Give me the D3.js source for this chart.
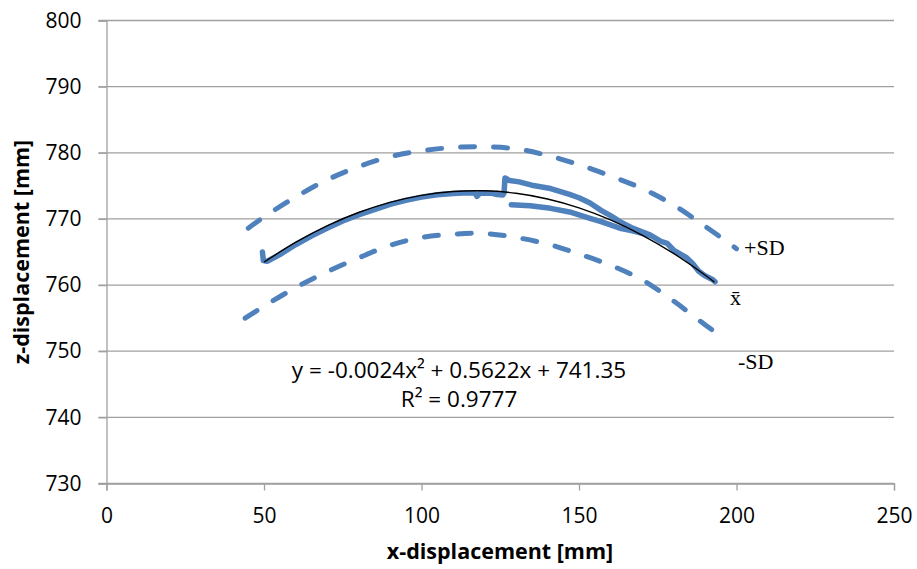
<!DOCTYPE html>
<html>
<head>
<meta charset="utf-8">
<script src="https://cdn.jsdelivr.net/npm/d3@7"></script>
<style>
  body { margin: 0; background: #fff; }
  svg { display: block; }
</style>
</head>
<body>
<svg id="chart" width="917" height="569"></svg>
<script>
// axis ticks
const xTicks = [0, 50, 100, 150, 200, 250];
const zTicks = [730, 740, 750, 760, 770, 780, 790, 800];

const meanTrace = [
  [49.5, 765.0], [49.8, 763.7], [51, 763.6], [55, 764.6], [60, 766.1], [65, 767.4],
  [70, 768.6], [75, 769.7], [80, 770.6], [85, 771.4], [90, 772.2], [95, 772.8],
  [100, 773.3], [105, 773.65], [110, 773.85], [115, 773.95], [117, 773.9], [117.6, 773.4],
  [118.5, 773.9], [122, 773.9], [124, 773.7], [125.8, 773.6], [126.2, 773.9], [126.5, 776.2],
  [128, 775.8], [131, 775.6], [135, 775.1], [141, 774.6], [147, 773.7], [150, 773.2],
  [153.5, 772.4], [157, 771.3], [160, 770.5], [163, 769.6], [167, 768.6], [172.5, 767.6],
  [176, 766.6], [178, 766.3], [180, 765.3], [184, 764.2], [186, 763.3], [188, 762.1],
  [190, 761.4], [192.5, 760.8], [193.2, 760.5]
];
// lower return branch of the mean path
const returnTrace = [
  [172.5, 767.5], [167, 768.2], [163, 768.6], [160, 769.1], [157, 769.6], [153.5, 770.1],
  [147, 771.05], [141, 771.6], [134.5, 772.0], [128.5, 772.15]
];
// polynomial trendline, sampled
const fitLine = [
  [50, 763.46], [60, 766.44], [70, 768.94], [80, 770.97], [90, 772.51], [100, 773.57],
  [110, 774.15], [120, 774.25], [130, 773.88], [140, 773.02], [150, 771.68], [160, 769.86],
  [170, 767.56], [180, 764.79], [190, 761.53], [193, 760.45]
];
const upperSD = [
  [45, 768.6], [50, 770.3], [60, 773.3], [70, 775.9], [80, 777.9], [90, 779.4],
  [100, 780.3], [110, 780.8], [120, 780.9], [130, 780.6], [140, 779.6], [150, 778.2],
  [160, 776.5], [170, 774.6], [180, 772.1], [190, 768.9], [200, 765.5]
];
const lowerSD = [
  [44, 755.0], [50, 756.8], [60, 759.6], [70, 762.0], [80, 764.1], [90, 766.0],
  [100, 767.2], [110, 767.7], [120, 767.8], [130, 767.2], [140, 766.2], [150, 764.7],
  [160, 763.0], [170, 760.8], [180, 757.6], [190, 754.0], [196, 752.0]
];
const equationText = ["y = -0.0024x\u00B2 + 0.5622x + 741.35", "R\u00B2 = 0.9777"];

const svg = d3.select("#chart");
const x = d3.scaleLinear().domain([0, 250]).range([106.5, 894]);
const y = d3.scaleLinear().domain([730, 800]).range([483.5, 20.5]);
const gridColor = "#a0a0a0";
const blue = "#4f81bd";
const font = "'Open Sans', sans-serif";

// gridlines
svg.append("g")
  .selectAll("line")
  .data(zTicks)
  .enter().append("line")
  .attr("x1", x(0) - 8).attr("x2", x(250))
  .attr("y1", d => y(d)).attr("y2", d => y(d))
  .attr("stroke", gridColor).attr("stroke-width", 1.3);

// y axis
const yAxis = svg.append("g")
  .attr("transform", "translate(" + x(0) + ",0)")
  .call(d3.axisLeft(y).tickValues(zTicks).tickSize(8).tickPadding(17).tickFormat(d3.format("d")));
yAxis.select(".domain").attr("stroke", gridColor).attr("stroke-width", 1.3);
yAxis.selectAll(".tick line").attr("stroke", gridColor).attr("stroke-width", 1.3);
yAxis.selectAll("text").attr("font-family", font).attr("font-size", 21).attr("fill", "#000");

// x axis
const xAxis = svg.append("g")
  .attr("transform", "translate(0," + y(730) + ")")
  .call(d3.axisBottom(x).tickValues(xTicks).tickSize(7).tickPadding(18).tickFormat(d3.format("d")));
xAxis.select(".domain").attr("stroke", gridColor).attr("stroke-width", 1.3);
xAxis.selectAll(".tick line").attr("stroke", gridColor).attr("stroke-width", 1.3);
xAxis.selectAll("text").attr("font-family", font).attr("font-size", 21).attr("fill", "#000");

const line = d3.line()
  .x(d => x(d[0]))
  .y(d => y(d[1]))
  .curve(d3.curveCatmullRom);

// SD bands (dashed)
svg.selectAll("path.sd")
  .data([upperSD, lowerSD])
  .enter().append("path")
  .attr("class", "sd")
  .attr("d", line)
  .attr("fill", "none")
  .attr("stroke", blue)
  .attr("stroke-width", 5)
  .attr("stroke-linecap", "round")
  .attr("stroke-dasharray", "14,19");

// mean path
svg.selectAll("path.mean")
  .data([meanTrace, returnTrace])
  .enter().append("path")
  .attr("class", "mean")
  .attr("d", d3.line().x(d => x(d[0])).y(d => y(d[1])))
  .attr("fill", "none")
  .attr("stroke", blue)
  .attr("stroke-width", 5.5)
  .attr("stroke-linejoin", "round")
  .attr("stroke-linecap", "round");

// trendline
svg.append("path")
  .datum(fitLine)
  .attr("d", line)
  .attr("fill", "none")
  .attr("stroke", "#000")
  .attr("stroke-width", 1.4);

// equation
svg.append("g").selectAll("text")
  .data(equationText)
  .enter().append("text")
  .attr("x", 459)
  .attr("y", (d, i) => 378 + i * 29)
  .attr("text-anchor", "middle")
  .attr("font-family", font)
  .attr("font-size", 22.5)
  .text(d => d);

// series labels
const labels = [
  { t: "+SD", x: 744, y: 255 },
  { t: "x\u0304", x: 730, y: 305 },
  { t: "-SD", x: 738, y: 369 }
];
svg.append("g").selectAll("text")
  .data(labels)
  .enter().append("text")
  .attr("x", d => d.x).attr("y", d => d.y)
  .attr("font-family", "'Liberation Serif', 'Times New Roman', serif")
  .attr("font-size", 22)
  .text(d => d.t);

// axis titles
svg.append("text")
  .attr("x", 500).attr("y", 559)
  .attr("text-anchor", "middle")
  .attr("font-family", font).attr("font-weight", "bold").attr("font-size", 21.5)
  .text("x-displacement [mm]");

svg.append("text")
  .attr("transform", "translate(29,252) rotate(-90)")
  .attr("text-anchor", "middle")
  .attr("font-family", font).attr("font-weight", "bold").attr("font-size", 21.5)
  .text("z-displacement [mm]");
</script>
</body>
</html>
